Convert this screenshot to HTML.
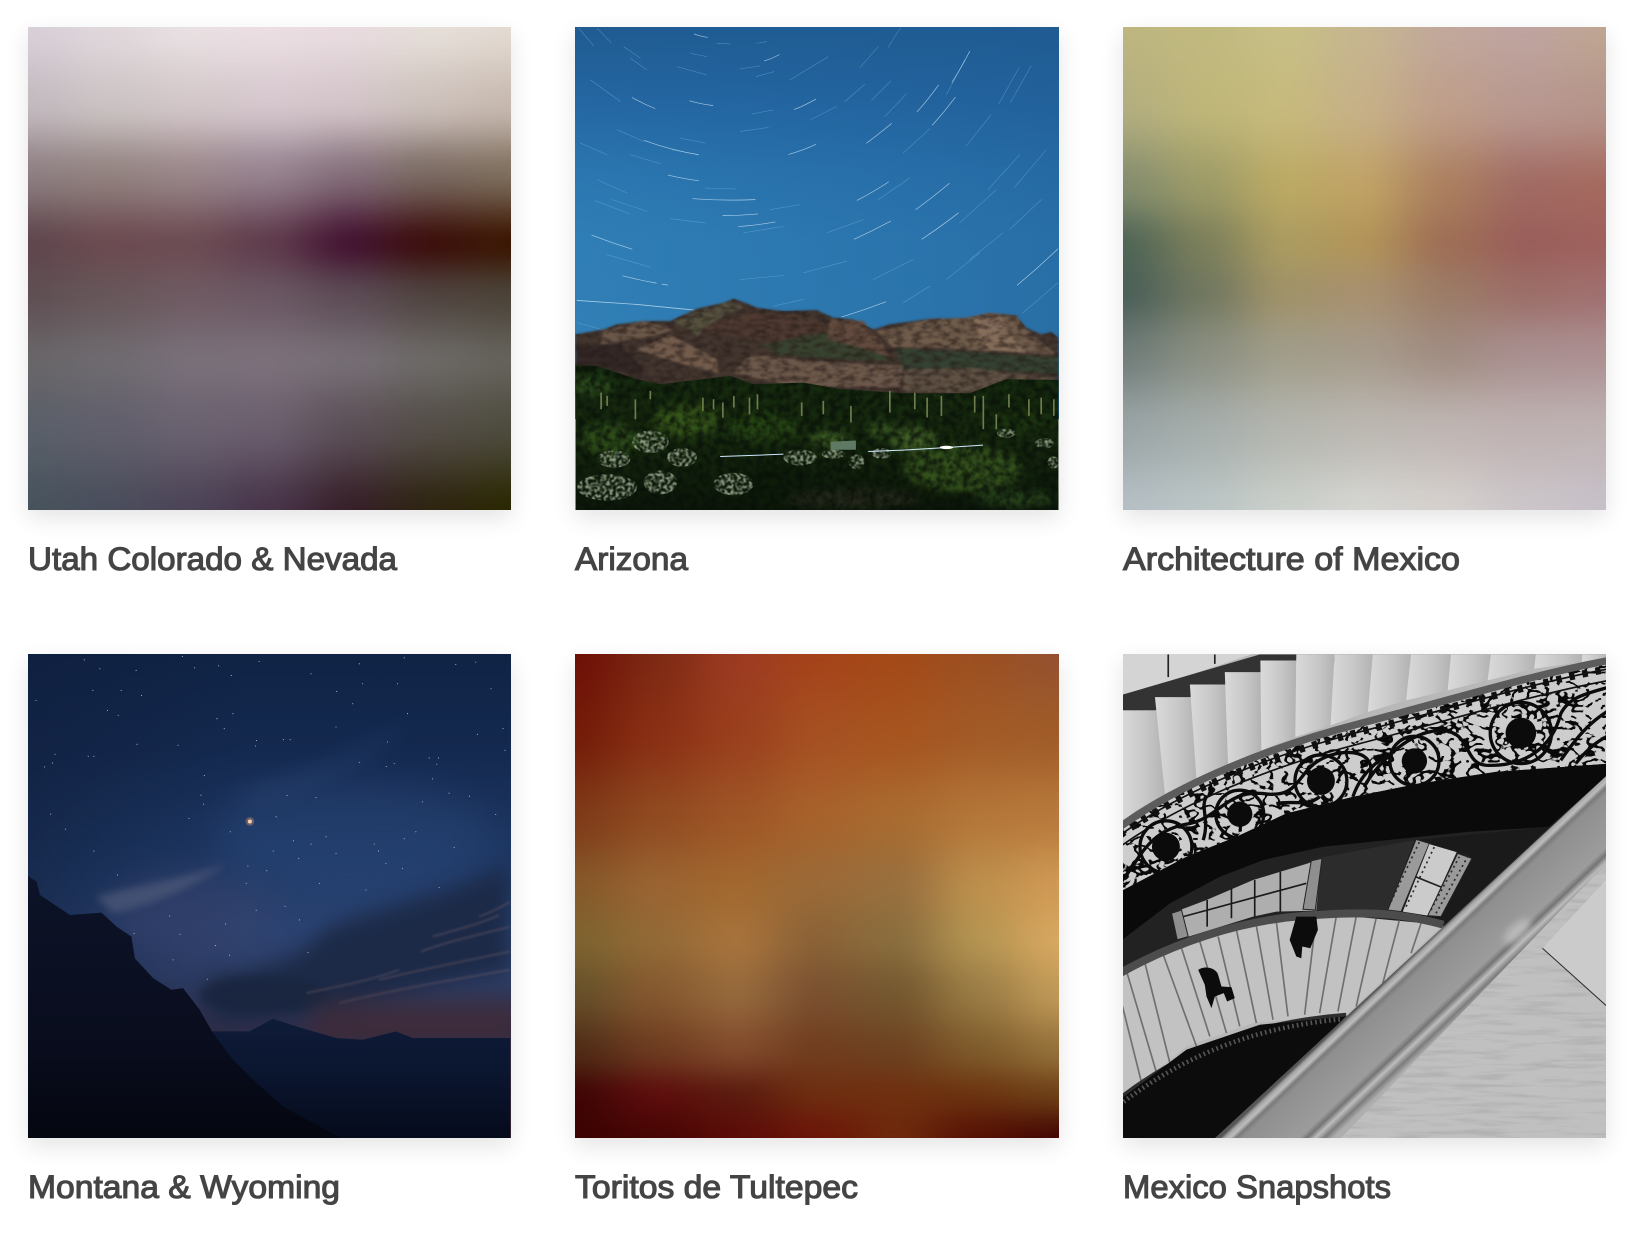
<!DOCTYPE html>
<html lang="en">
<head>
<meta charset="utf-8">
<title>Photo Galleries</title>
<style>
html,body{margin:0;padding:0;background:#fff;}
body{position:relative;width:1636px;height:1236px;overflow:hidden;font-family:"Liberation Sans",sans-serif;}
.card{position:absolute;width:483px;height:483px;box-shadow:0 8px 22px rgba(0,0,0,.11);overflow:hidden;cursor:pointer;}
.card svg,.card canvas{display:block;width:100%;height:100%;}
.title{position:absolute;left:0;top:0;}
.title text{font-family:"Liberation Sans",sans-serif;font-size:32px;fill:#444;stroke:#444;stroke-width:1.1px;}
</style>
</head>
<body>

<svg width="0" height="0" style="position:absolute">
<defs>
<filter id="b3" x="-20%" y="-20%" width="140%" height="140%" color-interpolation-filters="sRGB"><feGaussianBlur stdDeviation="3"/></filter>
<filter id="b12" x="-30%" y="-30%" width="160%" height="160%" color-interpolation-filters="sRGB"><feGaussianBlur stdDeviation="12"/></filter>
<filter id="b30" x="-60%" y="-60%" width="220%" height="220%" color-interpolation-filters="sRGB"><feGaussianBlur stdDeviation="30"/></filter>
<filter id="b55" x="-60%" y="-60%" width="220%" height="220%" color-interpolation-filters="sRGB"><feGaussianBlur stdDeviation="55"/></filter>
<filter id="mottleDark" x="0" y="0" width="100%" height="100%" color-interpolation-filters="sRGB"><feTurbulence type="fractalNoise" baseFrequency=".05" numOctaves="4" seed="4"/><feColorMatrix values="0 0 0 0 .03 0 0 0 0 .06 0 0 0 0 .03 0 0 0 2.6 -.85"/><feGaussianBlur stdDeviation="1.6"/></filter>
<filter id="mottleRock" x="0" y="0" width="100%" height="100%" color-interpolation-filters="sRGB"><feTurbulence type="fractalNoise" baseFrequency=".035 .07" numOctaves="4" seed="11"/><feColorMatrix values="0 0 0 0 .14 0 0 0 0 .1 0 0 0 0 .09 0 0 0 2.6 -1"/><feGaussianBlur stdDeviation="1.2"/></filter>
<filter id="mottleShrub" x="0" y="0" width="100%" height="100%" color-interpolation-filters="sRGB"><feTurbulence type="fractalNoise" baseFrequency=".11" numOctaves="2" seed="7"/><feColorMatrix values="0 0 0 0 .56 0 0 0 0 .62 0 0 0 0 .52 0 0 0 4 -1.7"/><feGaussianBlur stdDeviation="1.5"/></filter>
<filter id="ironwork" x="0" y="0" width="100%" height="100%" color-interpolation-filters="sRGB"><feTurbulence type="turbulence" baseFrequency=".022 .03" numOctaves="2" seed="9"/><feColorMatrix values="0 0 0 0 .03 0 0 0 0 .03 0 0 0 0 .03 0 0 0 -22 3.7"/></filter>
<filter id="marble" x="0" y="0" width="100%" height="100%" color-interpolation-filters="sRGB"><feTurbulence type="fractalNoise" baseFrequency=".006 .07" numOctaves="3" seed="3"/><feColorMatrix values="0 0 0 0 .5 0 0 0 0 .5 0 0 0 0 .5 0 0 0 3 -1.4"/></filter>
<clipPath id="azMtClip"><polygon points="15,945 100,930 140,915 220,905 300,905 380,868 460,850 490,838 530,852 560,865 640,875 740,872 790,895 850,900 910,930 960,915 1080,898 1190,895 1260,880 1340,888 1370,925 1415,945 1445,938 1467,955 1467,1120 1300,1120 1230,1150 1000,1150 800,1140 480,1110 200,1110 80,1070 15,1070"/></clipPath>
<clipPath id="azGroundClip"><polygon points="15,1037 80,1040 200,1080 270,1095 480,1070 550,1095 700,1090 800,1108 1000,1122 1200,1122 1310,1080 1467,1082 1467,1480 15,1480"/></clipPath>
<clipPath id="azShrubClip">
<ellipse cx="240" cy="1268" rx="55" ry="34"/><ellipse cx="130" cy="1320" rx="50" ry="26"/><ellipse cx="110" cy="1405" rx="90" ry="40"/>
<ellipse cx="335" cy="1315" rx="45" ry="28"/><ellipse cx="490" cy="1395" rx="60" ry="34"/><ellipse cx="270" cy="1390" rx="50" ry="36"/>
<ellipse cx="690" cy="1315" rx="50" ry="24"/><ellipse cx="860" cy="1328" rx="24" ry="22"/><ellipse cx="935" cy="1303" rx="30" ry="16"/>
<ellipse cx="1310" cy="1242" rx="28" ry="14"/><ellipse cx="1425" cy="1272" rx="28" ry="16"/><ellipse cx="1452" cy="1330" rx="18" ry="18"/><ellipse cx="790" cy="1305" rx="35" ry="14"/>
</clipPath>
<clipPath id="ornClip"><path d="M0 535C180 405 450 295 720 225S1250 75 1470 35V350L1130 365 900 400 700 440 500 490 350 560 200 620 0 725Z"/></clipPath>
<clipPath id="marbleClip"><polygon points="1470,630 1470,1480 650,1480"/></clipPath>
<linearGradient id="azSky" x1="0" y1="0" x2="0" y2="1">
<stop offset="0" stop-color="#1f5a90"/><stop offset=".2" stop-color="#2466a1"/><stop offset=".38" stop-color="#2b76b0"/><stop offset=".55" stop-color="#307eb6"/><stop offset="1" stop-color="#3080b4"/>
</linearGradient>
<linearGradient id="azSide" x1="0" y1="0" x2="1" y2="0">
<stop offset="0" stop-color="#1c5f9c" stop-opacity="0"/><stop offset="1" stop-color="#1f5a92" stop-opacity=".45"/>
</linearGradient>
<linearGradient id="azGround" x1="0" y1="0" x2="0" y2="1">
<stop offset="0" stop-color="#172c10"/><stop offset=".5" stop-color="#16290e"/><stop offset="1" stop-color="#0c170a"/>
</linearGradient>
<linearGradient id="mtSky" x1="0" y1="0" x2="0" y2="1">
<stop offset="0" stop-color="#0f2345"/><stop offset=".2" stop-color="#14294f"/><stop offset=".42" stop-color="#1e3864"/><stop offset=".56" stop-color="#2a4372"/><stop offset=".66" stop-color="#2e3f68"/><stop offset=".76" stop-color="#33304c"/><stop offset="1" stop-color="#33202a"/>
</linearGradient>
<linearGradient id="mtLeft" x1="0" y1="0" x2="1" y2="0">
<stop offset="0" stop-color="#0f1d3a" stop-opacity=".55"/><stop offset=".45" stop-color="#0f1d3a" stop-opacity="0"/>
</linearGradient>
<linearGradient id="mtRange" x1="0" y1="0" x2="0" y2="1">
<stop offset="0" stop-color="#0f1c38"/><stop offset=".4" stop-color="#0b1630"/><stop offset="1" stop-color="#050a1a"/>
</linearGradient>
<linearGradient id="mtRock" x1="0" y1="0" x2="0" y2="1">
<stop offset="0" stop-color="#0d1328"/><stop offset=".6" stop-color="#090d1e"/><stop offset="1" stop-color="#04060f"/>
</linearGradient>
<linearGradient id="stepFace" x1="0" y1="0" x2="1" y2="0">
<stop offset="0" stop-color="#dadada"/><stop offset=".6" stop-color="#c6c6c6"/><stop offset="1" stop-color="#b2b2b2"/>
</linearGradient>
<linearGradient id="beamFace" gradientUnits="userSpaceOnUse" x1="874" y1="922" x2="1035" y2="1092">
<stop offset="0" stop-color="#555"/><stop offset=".04" stop-color="#a5a5a5"/><stop offset=".09" stop-color="#bdbdbd"/><stop offset=".14" stop-color="#7a7a7a"/><stop offset=".2" stop-color="#8f8f8f"/><stop offset=".7" stop-color="#9c9c9c"/><stop offset=".77" stop-color="#747474"/><stop offset=".84" stop-color="#bdbdbd"/><stop offset=".92" stop-color="#7c7c7c"/><stop offset="1" stop-color="#aeaeae"/>
</linearGradient>
</defs>
</svg>

<!-- Utah -->
<div class="card" style="left:28px;top:27px">
<canvas id="tileUtah" width="484" height="484"></canvas>
</div>

<!-- Arizona -->
<div class="card" style="left:575px;top:27px;width:484px">
<svg viewBox="0 0 1452 1452">
<g transform="translate(-15,-21)">
<rect x="0" y="0" width="1500" height="1200" fill="url(#azSky)"/>
<rect x="0" y="0" width="1500" height="1200" fill="url(#azSide)"/>
<g fill="none" stroke="#7fc0e8" stroke-width="1.6" stroke-linecap="round" opacity=".5">
<path d="M825 245L885 193M905 241L963 183M1287 253L1349 142M1322 249L1385 137M955 82L992 23M870 143L925 80M1000 400L1080 327M1190 378L1264 285M1255 510L1350 405M1335 503L1430 390M925 540L1020 475M405 505L498 508M73 543L180 583M125 540L230 575M108 705L240 743M510 780L640 768M910 780L1030 720M300 597L405 610M140 330L220 365M60 180L150 245M180 115L230 150M25 25L70 78M80 25L122 68M510 147L570 138M558 170L612 155M545 283L610 270M510 335L595 323M330 355L405 370M305 390L385 405M180 405L270 432M1170 610L1280 510M1320 630L1415 540M1360 880L1465 790M20 910L110 935M720 300L800 260M1130 225L1185 120M945 290L1010 222M770 640L880 600M660 180L775 110M560 70L590 65M440 70L480 72M160 80L210 115M320 140L410 165M360 100L410 110M600 570L690 555M80 480L170 520M30 370L110 405M520 640L640 620M1000 850L1080 800M1200 720L1300 640M700 760L830 725M610 860L700 840M1130 780L1230 700"/>
</g>
<g fill="none" stroke="#c4e0f4" stroke-width="2" stroke-linecap="round" opacity=".8">
<path d="M372 42Q392 50 412 52M583 123Q606 116 628 104M185 233Q218 252 254 266M358 243Q392 253 428 257M673 269Q706 256 737 238M1042 276Q1076 238 1106 196M1147 187Q1176 142 1200 94M1088 316Q1124 276 1157 232M890 370Q928 342 965 311M222 362Q262 377 305 388M305 388Q344 398 385 405M656 404Q698 392 737 374M293 466Q338 477 385 483M862 542Q910 517 956 487M1038 570Q1090 532 1139 491M367 537Q460 544 555 540M505 621Q560 617 615 607M458 588Q510 588 563 583M64 647Q124 670 185 689M853 659Q908 634 962 605M157 769Q208 782 258 791M275 794L292 797M815 893Q882 872 948 847M1343 797Q1406 745 1465 688M1056 659Q1112 622 1166 580"/>
<path d="M20 843L200 855L372 872" stroke-width="2.4"/>
</g>
<g filter="url(#b3)">
<polygon points="15,945 100,930 140,915 220,905 300,905 380,868 460,850 490,838 530,852 560,865 640,875 740,872 790,895 850,900 910,930 960,915 1080,898 1190,895 1260,880 1340,888 1370,925 1415,945 1445,938 1467,955 1467,1120 1300,1120 1230,1150 1000,1150 800,1140 480,1110 200,1110 80,1070 15,1070" fill="#43362f"/>
<polygon points="100,935 220,905 310,930 250,950 90,975" fill="#6c5849"/>
<polygon points="200,990 300,945 440,1020 445,1062 300,1025" fill="#735c4c"/>
<polygon points="15,980 150,975 210,1040 220,1075 80,1040 15,1040" fill="#342826"/>
<polygon points="310,905 460,850 530,860 440,900 380,950" fill="#55513f"/>
<polygon points="385,930 520,880 640,880 760,905 780,950 600,970 500,950" fill="#4e3a31"/>
<polygon points="580,975 780,935 900,985 970,1025 800,1020 620,1005" fill="#38432f"/>
<polygon points="780,900 880,905 940,975 960,1015 870,985 770,960" fill="#624b3e"/>
<polygon points="920,935 1080,900 1190,895 1260,880 1340,890 1370,930 1460,1005 1250,995 1100,985 970,985" fill="#705c4b"/>
<polygon points="1210,900 1290,885 1330,960 1370,1000 1240,990" fill="#866e5b"/>
<polygon points="975,985 1250,1000 1467,1015 1467,1065 1200,1050 1000,1050" fill="#354232"/>
<polygon points="490,1060 540,1005 620,1015 800,1030 1000,1040 990,1105 800,1105 640,1095" fill="#6d594b"/>
<polygon points="1000,1050 1200,1045 1467,1080 1467,1095 1230,1125 1000,1115" fill="#5f5143"/>
</g>
<g clip-path="url(#azMtClip)" opacity=".6"><rect x="15" y="838" width="1452" height="320" filter="url(#mottleRock)"/></g>
<g>
<polygon points="15,1037 80,1040 200,1080 270,1095 480,1070 550,1095 700,1090 800,1108 1000,1122 1200,1122 1310,1080 1467,1082 1467,1480 15,1480" fill="url(#azGround)"/>
<g filter="url(#b12)">
<ellipse cx="120" cy="1260" rx="90" ry="48" fill="#2e4c1a"/>
<ellipse cx="350" cy="1205" rx="100" ry="50" fill="#36561a"/>
<ellipse cx="580" cy="1225" rx="110" ry="46" fill="#264414"/>
<ellipse cx="780" cy="1260" rx="60" ry="30" fill="#3a5a22"/>
<ellipse cx="1030" cy="1262" rx="70" ry="38" fill="#405f26"/>
<ellipse cx="930" cy="1230" rx="40" ry="28" fill="#33501f"/>
<ellipse cx="1180" cy="1350" rx="180" ry="70" fill="#33501c"/>
<ellipse cx="1360" cy="1210" rx="90" ry="36" fill="#1c3410"/>
<ellipse cx="620" cy="1400" rx="90" ry="60" fill="#0e1c0a"/>
<ellipse cx="850" cy="1440" rx="200" ry="30" fill="#24281a"/>
<ellipse cx="1340" cy="1440" rx="120" ry="26" fill="#26401a"/>
<ellipse cx="60" cy="1100" rx="70" ry="30" fill="#2b4a1c"/>
</g>
<g clip-path="url(#azGroundClip)" opacity=".75"><rect x="15" y="1037" width="1452" height="443" filter="url(#mottleDark)"/></g>
<g fill="none" stroke="#6e7d4d" stroke-width="5">
<path d="M92 1120V1170M195 1140V1200M398 1135V1175M458 1150V1195M491 1130V1165M538 1135V1185M562 1125V1170M695 1150V1190M843 1160V1210M960 1115V1180M1035 1120V1170M1072 1135V1195M1115 1130V1190M1241 1130V1230M1215 1130V1180M1318 1125V1165M1378 1140V1190M1415 1135V1185M1453 1140V1190M1280 1185V1230M110 1130V1160M240 1115V1140M760 1145V1185M430 1140V1170"/>
</g>
<g clip-path="url(#azShrubClip)"><rect x="15" y="1200" width="1452" height="280" filter="url(#mottleShrub)"/></g>
<polygon points="782,1268 858,1264 858,1292 782,1292" fill="#5f7a64"/>
<path d="M450 1312L570 1308L640 1305M895 1297L1000 1293L1120 1286L1240 1278" fill="none" stroke="#cfe8ff" stroke-width="3"/>
<ellipse cx="1130" cy="1285" rx="20" ry="5" fill="#fff"/>
</g>
</g>
</svg>
</div>

<!-- Architecture of Mexico -->
<div class="card" style="left:1123px;top:27px">
<canvas id="tileArch" width="484" height="484"></canvas>
</div>

<!-- Montana -->
<div class="card" style="left:28px;top:654px;height:484px">
<svg viewBox="0 0 1452 1452">
<g transform="translate(-24,-12)">
<rect x="0" y="0" width="1500" height="1480" fill="url(#mtSky)"/>
<rect x="0" y="0" width="1500" height="1480" fill="url(#mtLeft)"/>
<g>
<ellipse cx="1000" cy="560" rx="420" ry="160" fill="#2c4a7c" opacity=".4" filter="url(#b55)"/>
<ellipse cx="520" cy="800" rx="260" ry="130" fill="#39416a" opacity=".5" filter="url(#b55)"/>
<path d="M230 740C380 700 520 680 620 640C560 690 420 760 280 790Z" fill="#4c5878" opacity=".75" filter="url(#b12)"/>
<path d="M620 440C760 380 1000 340 1160 200C1100 320 900 420 720 460Z" fill="#32507e" opacity=".28" filter="url(#b30)"/>
<path d="M560 985C700 960 840 940 890 860C950 790 1250 760 1473 640V965C1200 1010 950 1090 640 1130L560 1100Z" fill="#1b2844" opacity=".9" filter="url(#b30)"/>
<ellipse cx="730" cy="1035" rx="190" ry="55" fill="#1a2640" opacity=".85" filter="url(#b12)"/>
<g fill="none" stroke="#8a6c6c" stroke-width="5" opacity=".4" filter="url(#b3)">
<path d="M1380 800C1420 785 1450 770 1473 755M1205 905C1300 870 1400 850 1473 830M1080 990C1200 960 1350 930 1473 905M960 1060C1120 1020 1300 990 1473 960M1240 860C1330 835 1400 815 1440 795M860 1030C960 1010 1060 990 1140 960"/>
</g>
<rect x="880" y="1050" width="620" height="130" fill="#46282c" opacity=".5" filter="url(#b30)"/>
</g>
<path fill="none" stroke="#b6c4dc" stroke-width="3.2" stroke-linecap="round" d="M711 271h0M98 338h0M105 312h0M1310 42h0M525 52h0M952 123h0M1290 429h0M761 603h0M742 662h0M866 908h0M1078 603h0M1253 342h0M1240 386h0M508 505h0M632 545h0M822 572h0M304 120h0M219 120h0M263 180h0M349 60h0M193 28h0M488 18h0M597 46h0M719 33h0M1155 22h0M1135 100h0M1105 275h0M1020 337h0M890 442h0M803 436h0M552 462h0M544 435h0M554 376h0M352 282h0M205 318h0M222 318h0M74 350h0M48 150h0M137 537h0M92 492h0M222 603h0M293 675h0M460 930h0M481 853h0M343 851h0M797 769h0M710 781h0M640 190h0M592 205h0M614 235h0M708 287h0M792 268h0M812 268h0M1230 323h0M1258 323h0M1101 349h0M1125 340h0M1430 493h0M1351 438h0M1458 300h0M1452 235h0M1375 252h0M1416 115h0M1165 190h0M1000 160h0M1030 100h0M875 70h0M950 230h0M1065 582h0M1155 566h0M1190 545h0M1305 592h0M1260 712h0M1150 655h0M920 560h0M875 582h0M838 625h0M685 648h0M618 822h0M588 887h0M630 916h0M680 700h0M563 988h0M840 810h0M450 798h0M240 55h0M365 135h0M295 195h0M475 285h0M635 75h0M1020 40h0M1370 35h0M1210 455h0M950 610h0M1040 720h0M1100 640h0M770 500h0M900 700h0"/>
<circle cx="691" cy="514" r="6" fill="#ffe9cf"/>
<circle cx="691" cy="514" r="13" fill="#e8a070" opacity=".35"/>
<polygon points="580,1145 690,1145 760,1107 830,1130 950,1165 1030,1170 1130,1145 1180,1165 1473,1165 1473,1480 24,1480" fill="url(#mtRange)"/>
<polygon points="24,678 50,695 60,735 150,795 245,788 290,830 335,860 345,925 400,985 455,1020 490,1015 540,1080 580,1150 640,1230 700,1290 790,1370 960,1464 980,1480 24,1480" fill="url(#mtRock)"/>
</g>
</svg>
</div>

<!-- Toritos -->
<div class="card" style="left:575px;top:654px;width:484px;height:484px">
<canvas id="tileToritos" width="484" height="484"></canvas>
</div>

<!-- Mexico Snapshots -->
<div class="card" style="left:1123px;top:654px;height:484px">
<svg viewBox="0 0 1452 1452">
<g transform="translate(-9,-12)">
<rect x="0" y="0" width="1480" height="1480" fill="#b8b8b8"/>
<g>
<polygon points="0,0 430,0 10,140" fill="#d4d4d4"/>
<path d="M145 12V80M285 12V40" stroke="#222" stroke-width="5"/>
<polygon points="0,135 420,12 660,12 660,40 530,30 422,65 315,102 210,140 105,180 0,180" fill="#333"/>
<g fill="url(#stepFace)">
<polygon points="0,180 105,180 135,430 50,480 0,520"/>
<polygon points="105,140 210,140 230,390 135,430"/>
<polygon points="210,102 315,102 325,345 230,390"/>
<polygon points="315,65 422,65 425,300 325,345"/>
<polygon points="422,30 530,30 527,260 425,300"/>
<polygon points="530,12 645,12 633,225 527,260"/>
<polygon points="645,12 760,12 745,185 633,225"/>
<polygon points="760,12 875,12 860,150 745,185"/>
<polygon points="875,12 995,12 985,120 860,150"/>
<polygon points="995,12 1115,12 1105,90 985,120"/>
<polygon points="1115,12 1250,12 1245,55 1105,90"/>
<polygon points="1250,12 1390,12 1388,35 1245,55"/>
<polygon points="1390,12 1470,12 1470,28 1388,35"/>
</g>
</g>
<g>
<path d="M0 530C180 400 450 290 720 220S1250 70 1470 30V350L1130 365 900 400 700 440 500 490 350 560 200 620 0 725Z" fill="#cdcdcd"/>
<g clip-path="url(#ornClip)"><rect x="0" y="20" width="1470" height="720" filter="url(#ironwork)"/></g>
<path d="M0 555C180 425 450 315 720 245S1250 95 1470 55" fill="none" stroke="#111" stroke-width="22" stroke-dasharray="16 24"/>
<path d="M0 555C180 425 450 315 720 245S1250 95 1470 55" fill="none" stroke="#111" stroke-width="5"/>
<path d="M0 590C180 460 450 350 720 280S1250 130 1470 90" fill="none" stroke="#111" stroke-width="5"/>
<g fill="#0b0b0b">
<circle cx="1205" cy="248" r="46"/><circle cx="885" cy="332" r="38"/><circle cx="604" cy="392" r="42"/><circle cx="360" cy="492" r="38"/><circle cx="138" cy="590" r="42"/>
</g>
<g fill="none" stroke="#0b0b0b" stroke-width="10">
<circle cx="1205" cy="248" r="92"/><circle cx="885" cy="332" r="74"/><circle cx="604" cy="392" r="78"/><circle cx="360" cy="492" r="72"/><circle cx="138" cy="590" r="78"/>
<path d="M0 700C60 630 80 540 210 520C300 500 320 420 430 430C560 450 520 340 650 310C760 290 770 360 740 400C720 430 820 250 960 240C1060 240 1030 340 1100 345C1220 350 1300 290 1325 190C1350 140 1400 130 1470 110"/>
<path d="M1325 330C1380 250 1420 210 1470 180M1370 340C1410 290 1440 270 1470 255M700 440C720 380 760 340 810 310M470 460C520 450 560 470 600 440M250 570C270 510 240 470 260 440"/>
</g>
<path d="M0 530C180 400 450 290 720 220S1250 70 1470 30" fill="none" stroke="#5c5c5c" stroke-width="22"/>
</g>
<g>
<polygon points="0,725 200,620 350,560 500,490 700,440 900,400 1130,365 1470,340 1470,720 970,830 0,975" fill="#222"/>
<polygon points="0,725 200,620 350,560 500,490 700,440 900,400 1130,365 1470,340 1470,370 1290,530 1050,545 850,565 610,590 430,630 300,680 150,760 0,875" fill="#0a0a0a"/>
<polygon points="590,625 885,570 805,780 590,780" fill="#2c2c2c"/>
<polygon points="885,570 1290,530 980,820 805,780 1055,620" fill="#1a1a1a"/>
</g>
<g>
<polygon points="155,790 260,750 400,690 565,640 605,625 590,782 470,785 400,800 200,862" fill="#aeaeae"/>
<path d="M262 750V830M335 715V805M405 690V800M482 665V785M190 800L560 700" stroke="#1a1a1a" stroke-width="5" fill="none"/>
<polygon points="550,778 575,632 607,625 587,780" fill="#8f8f8f" stroke="#222" stroke-width="3"/>
<polygon points="155,790 185,780 205,860 172,870" fill="#8f8f8f" stroke="#222" stroke-width="3"/>
<polygon points="805,780 890,568 930,580 845,785" fill="#9a9a9a" stroke="#222" stroke-width="3"/>
<polygon points="850,785 930,582 1012,606 925,797" fill="#cbcbcb"/>
<path d="M888 680L968 712" stroke="#222" stroke-width="5"/>
<polygon points="925,797 1015,610 1058,625 965,800" fill="#9a9a9a" stroke="#222" stroke-width="3"/>
<path d="M815 755L900 575M860 770L945 590M935 780L1020 620M950 790L1045 620" stroke="#2a2a2a" stroke-width="5" stroke-dasharray="6 10" fill="none"/>
</g>
<g>
<polygon points="0,975 180,890 400,815 650,795 970,825 680,1095 400,1120 200,1190 0,1350" fill="#c2c2c2"/>
<path fill="none" stroke="#5a5a5a" stroke-width="5" opacity=".8" d="M20 965L110 1270M75 940L150 1240M130 915L230 1190M185 895L270 1160M240 875L320 1150M295 860L360 1130M350 840L410 1120M410 828L460 1110M470 815L505 1100M590 800L555 1095M650 800L600 1090M710 800L655 1085M770 805L710 1070M840 810L790 1000M905 820L875 910M0 1040L65 1300"/>
<path d="M0 970C150 885 350 812 560 797S850 792 972 824" fill="none" stroke="#4c4c4c" stroke-width="24"/>
<g fill="#0c0c0c">
<path d="M235 960C255 945 290 955 295 975L305 1010 335 1012 345 1045 322 1055 312 1030 285 1040 275 1075 260 1040 255 1005Z"/>
<path d="M530 800L590 800 595 840 572 895 548 890 545 925 530 920 510 870Z"/>
</g>
<path d="M0 1345C200 1190 420 1115 680 1095" fill="none" stroke="#2e2e2e" stroke-width="12"/>
<polygon points="0,1350 200,1200 420,1125 680,1100 300,1480 0,1480" fill="#0c0c0c"/>
<path d="M0 1365C200 1210 420 1130 670 1108" fill="none" stroke="#555" stroke-width="14" stroke-dasharray="5 9"/>
</g>
<g>
<polygon points="1470,630 1470,1480 650,1480" fill="#c0c0c0"/>
<g clip-path="url(#marbleClip)" opacity=".22"><rect x="650" y="630" width="820" height="850" filter="url(#marble)"/></g>
<polygon points="1270,895 1470,1075 1470,680" fill="#cbcbcb"/>
<path d="M1270 895L1470 1075" stroke="#2a2a2a" stroke-width="3"/>
</g>
<polygon points="1480,360 1480,620 650,1480 270,1480" fill="url(#beamFace)"/>
<ellipse cx="1195" cy="845" rx="50" ry="22" transform="rotate(-42 1195 845)" fill="#c8c8c8" opacity=".7" filter="url(#b12)"/>
</g>
</svg>
</div>

<!-- Titles -->
<svg class="title" width="1636" height="1236" viewBox="0 0 1636 1236" style="pointer-events:none">
<text x="28" y="570" textLength="369" lengthAdjust="spacingAndGlyphs">Utah Colorado &amp; Nevada</text>
<text x="575" y="570" textLength="113" lengthAdjust="spacingAndGlyphs">Arizona</text>
<text x="1123" y="570" textLength="337" lengthAdjust="spacingAndGlyphs">Architecture of Mexico</text>
<text x="28" y="1198" textLength="312" lengthAdjust="spacingAndGlyphs">Montana &amp; Wyoming</text>
<text x="575" y="1198" textLength="283" lengthAdjust="spacingAndGlyphs">Toritos de Tultepec</text>
<text x="1123" y="1198" textLength="268" lengthAdjust="spacingAndGlyphs">Mexico Snapshots</text>
</svg>

<script>
const utahRows = [0, 240, 440, 650, 800, 1000, 1200, 1452];
const utahColors = [
  ['#d9d0d9','#e0d8dc','#e9e1e3','#ecdfe4','#e9dce0','#e6dfd9','#e4dbd3'],
  ['#c2b9bf','#cbc3c3','#d2c6c8','#d5c7cd','#d2c4c8','#ccc0ba','#c6b8ae'],
  ['#8e7f82','#92827f','#998689','#968290','#846f7a','#7a6a62','#7f6f5e'],
  ['#5e464c','#6b4a50','#6c4b52','#5e3a4b','#42102f','#3a0c08','#3a1500'],
  ['#5f4f53','#675659','#6f5a62','#6a5763','#5c4b55','#4f433f','#4b4338'],
  ['#696669','#6f6b70','#79707a','#7c717b','#776f76','#6d6a67','#65635c'],
  ['#5a6069','#615f6c','#6b6270','#6b5f6e','#5c5058','#544e48','#4f4d40'],
  ['#47535d','#4a4e5c','#4c4457','#48344a','#361f28','#2e2410','#2b2803']
];
const archRows = [0, 242, 484, 650, 800, 968, 1210, 1452];
const archColors = [
  ['#bfb680','#c0b97f','#c7bf86','#c6b690','#c1a89c','#bfa4a0','#bfa692'],
  ['#b3ae80','#bfb679','#c7ba7d','#c6b088','#bf9e8a','#b89890','#b5948a'],
  ['#838c6e','#9c9a67','#bba964','#c0a265','#ab7f5f','#a06a62','#a5695f'],
  ['#4f6556','#7c7f5b','#ab9c60','#b29458','#9e6e55','#9a5e5a','#9f615d'],
  ['#4a5f58','#70775f','#a09268','#a89070','#9c7c67','#9c6e68','#a07070'],
  ['#6e7b78','#8a8e80','#a09c88','#a59a8a','#a08b80','#a88e8e','#ac8e90'],
  ['#9ba5a6','#a6aeac','#b4b6af','#bcb8b2','#bfb6b3','#bfb2b2','#bfb3b4'],
  ['#b6c0c6','#bcc6c6','#cbd0cb','#d6d6d2','#d6d1ce','#ccc6ca','#c7c1c9']
];
const toritosRows = [0, 242, 484, 700, 860, 1020, 1200, 1320, 1452];
const toritosColors = [
  ['#6e1007','#7e2a14','#9c3b22','#a5431a','#a34a18','#9c5022','#955230'],
  ['#731c09','#8a2f14','#9a3f1d','#a65022','#a7541f','#a25a26','#a05c29'],
  ['#7e3a18','#904a20','#9e5526','#a8622b','#a96b30','#b47639','#b87a3c'],
  ['#85592a','#9a6432','#a2682f','#9a6a38','#986f3e','#bd904d','#d09a55'],
  ['#7e6430','#926a36','#a8733c','#8a6236','#8a6e3e','#b59552','#d8a860'],
  ['#66502a','#85582f','#966a3c','#7a5030','#74582f','#9a7c45','#c09a58'],
  ['#4f2a16','#6c3a1f','#80492b','#703c1e','#6d4120','#7d5a2a','#94703a'],
  ['#3f0505','#5e0d0d','#5a1a0e','#6e2e10','#6e2f0f','#6c3410','#6e4217'],
  ['#3c0302','#460503','#5c0c08','#6c1408','#6e290c','#550f04','#440503']
];
function hexToRgb(h) {
  return [parseInt(h.slice(1, 3), 16), parseInt(h.slice(3, 5), 16), parseInt(h.slice(5, 7), 16)];
}
function ease(t) {
  return t * 0.4 + t * t * (3 - 2 * t) * 0.6;
}
function paintTile(id, rows, colors) {
  const canvas = document.getElementById(id);
  const ctx = canvas.getContext('2d');
  const size = canvas.width;
  const img = ctx.createImageData(size, size);
  const grid = colors.map(function (row) { return row.map(hexToRgb); });
  const colCount = grid[0].length;
  for (let py = 0; py < size; py++) {
    const sy = py / (size - 1) * 1452;
    let r = 0;
    while (r < rows.length - 2 && sy > rows[r + 1]) r++;
    const ty = ease((sy - rows[r]) / (rows[r + 1] - rows[r]));
    for (let px = 0; px < size; px++) {
      const sx = px / (size - 1) * (colCount - 1);
      const c = Math.min(Math.floor(sx), colCount - 2);
      const tx = ease(sx - c);
      const o = (py * size + px) * 4;
      for (let k = 0; k < 3; k++) {
        const top = grid[r][c][k] * (1 - tx) + grid[r][c + 1][k] * tx;
        const bottom = grid[r + 1][c][k] * (1 - tx) + grid[r + 1][c + 1][k] * tx;
        img.data[o + k] = top * (1 - ty) + bottom * ty;
      }
      img.data[o + 3] = 255;
    }
  }
  ctx.putImageData(img, 0, 0);
  ctx.filter = 'blur(9px)';
  ctx.drawImage(canvas, 0, 0);
  ctx.filter = 'none';
}
paintTile('tileUtah', utahRows, utahColors);
paintTile('tileArch', archRows, archColors);
paintTile('tileToritos', toritosRows, toritosColors);
</script>
</body>
</html>
